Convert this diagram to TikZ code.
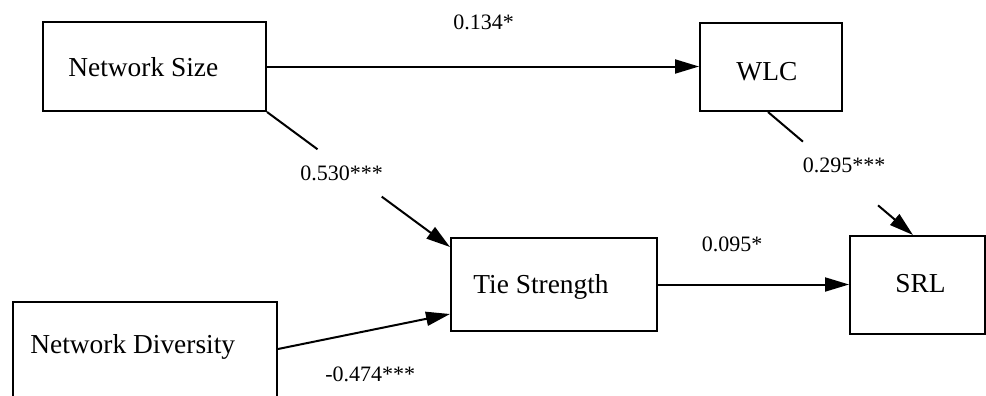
\documentclass[tikz,border=0pt]{standalone}
\usepackage{fontspec}
\setmainfont{Liberation Serif}
\usetikzlibrary{arrows.meta,calc}
\begin{document}
\begin{tikzpicture}[x=0.5pt,y=-0.5pt,
  box/.style={draw,line width=1pt,rectangle,inner sep=0pt},
  boxtext/.style={anchor=base west,inner sep=0pt,font=\fontsize{13.7}{16}\selectfont},
  coef/.style={anchor=base west,inner sep=0pt,font=\fontsize{11}{13}\selectfont},
  conn/.style={line width=1pt},
  arr/.style={line width=1pt,-{Triangle[length=12pt,width=7pt]}}]
\useasboundingbox (0,0) rectangle (986,396);
\clip (0,0) rectangle (986,396);
% boxes
\node[box,minimum width=111.5pt,minimum height=44.5pt] (ns) at (154.5,66.5) {};
\node[box,minimum width=71pt,minimum height=44pt] (wlc) at (771,67) {};
\node[box,minimum width=103pt,minimum height=46.5pt] (ts) at (554,284.5) {};
\node[box,minimum width=67.5pt,minimum height=49pt] (srl) at (917.5,285) {};
\node[box,minimum width=132pt,minimum height=69pt] (nd) at (145,371) {};
% box texts
\node[boxtext] (nsT) at (68,76) {Network Size};
\node[boxtext] (wlcT) at (736,80) {WLC};
\node[boxtext] (tsT) at (473,293) {Tie Strength};
\node[boxtext] (srlT) at (895,292) {SRL};
\node[boxtext] (ndT) at (30,353) {Network Diversity};
% connectors
\draw[arr] (ns.east) -- (ns.east -| wlc.west);
\draw[arr] (ts.east) -- (ts.east -| srl.west);
\draw[arr] ([yshift=-24pt]nd.north east) -- ([yshift=-38.5pt]ts.north west);
% Network Size -> Tie Strength (with gap for label)
\coordinate (nsS) at (ns.south east);
\coordinate (tsN) at ([yshift=-5pt]ts.north west);
\coordinate (g1) at ($(nsS)!0.276!(tsN)$);
\coordinate (g2) at ($(nsS)!0.627!(tsN)$);
\draw[conn] (nsS) -- (g1);
\draw[arr] (g2) -- (tsN);
% WLC -> SRL (with gap for label)
\coordinate (wlcS) at ([xshift=-1.5pt]wlc.south);
\coordinate (srlN) at ([xshift=-2.25pt]srl.north);
\coordinate (g3) at ($(wlcS)!0.241!(srlN)$);
\coordinate (g4) at ($(wlcS)!0.759!(srlN)$);
\draw[conn] (wlcS) -- (g3);
\draw[arr] (g4) -- (srlN);
% coefficients
\node[coef] (c1) at (453,30) {0.134*};
\node[coef] (c2) at (300,180) {0.530***};
\node[coef] (c3) at (802.5,172.5) {0.295***};
\node[coef] (c4) at (701.5,251) {0.095*};
\node[coef] (c5) at (325,381) {-0.474***};
\end{tikzpicture}
\end{document}
